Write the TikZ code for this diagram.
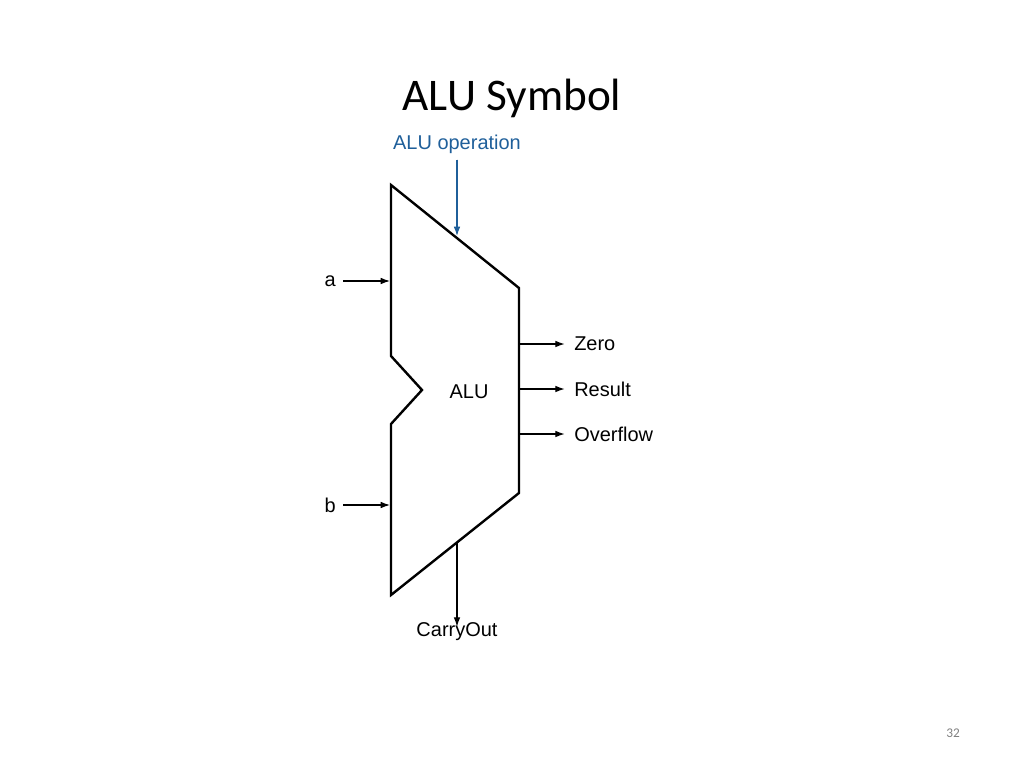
\documentclass[tikz,border=0pt]{standalone}
\usepackage{fontspec}
\setmainfont{Liberation Sans}
\newfontfamily\titlefont{Carlito}
\usetikzlibrary{arrows.meta}
\definecolor{opblue}{RGB}{31,95,154}
\begin{document}
\begin{tikzpicture}[x=0.0264cm,y=-0.0264cm,
    sig/.style={-{Latex[length=7pt,width=5pt]}, line width=0.9pt},
    lbl/.style={font=\fontsize{15}{18}\selectfont, inner sep=0pt}]
    \useasboundingbox (0,0) rectangle (1024,768);
    % title and page number
    \node (title) at (512,98) {\titlefont\fontsize{34}{40}\selectfont ALU Symbol};
    \node (page) at (953,733) {\titlefont\fontsize{10}{12}\selectfont\color{gray}32};
    % ALU body
    \draw[line width=1.8pt, line join=miter] (391,185) -- (519,288) -- (519,493) -- (391,595)
        -- (391,424) -- (422,390) -- (391,356) -- cycle;
    \node[lbl] (alu) at (469,392) {ALU};
    % operation input
    \node[lbl, text=opblue] (op) at (457,144) {ALU operation};
    \coordinate (opin) at (457,236);
    \draw[sig, draw=opblue, fill=opblue] (op.south) ++(0,6) -- (opin);
    % data inputs
    \node[lbl, anchor=east] (a) at (336,281) {a};
    \node[lbl, anchor=east] (b) at (336,505) {b};
    \coordinate (ain) at (390,281);
    \coordinate (bin) at (390,505);
    \draw[sig] (a.east) ++(7,0) -- (ain);
    \draw[sig] (b.east) ++(7,0) -- (bin);
    % outputs
    \node[lbl, anchor=west] (zero) at (574,344) {Zero};
    \node[lbl, anchor=west] (result) at (574,389) {Result};
    \node[lbl, anchor=west] (ovf) at (574,434) {Overflow};
    \foreach \n/\y in {zero/344, result/389, ovf/434}
        \draw[sig] (520,\y) -- ([xshift=-7]\n.west);
    % carry out
    \node[lbl] (cout) at (457,632) {CarryOut};
    \coordinate (cin) at (457,543);
    \draw[sig] (cin) -- ([yshift=-3]cout.north);
\end{tikzpicture}
\end{document}
